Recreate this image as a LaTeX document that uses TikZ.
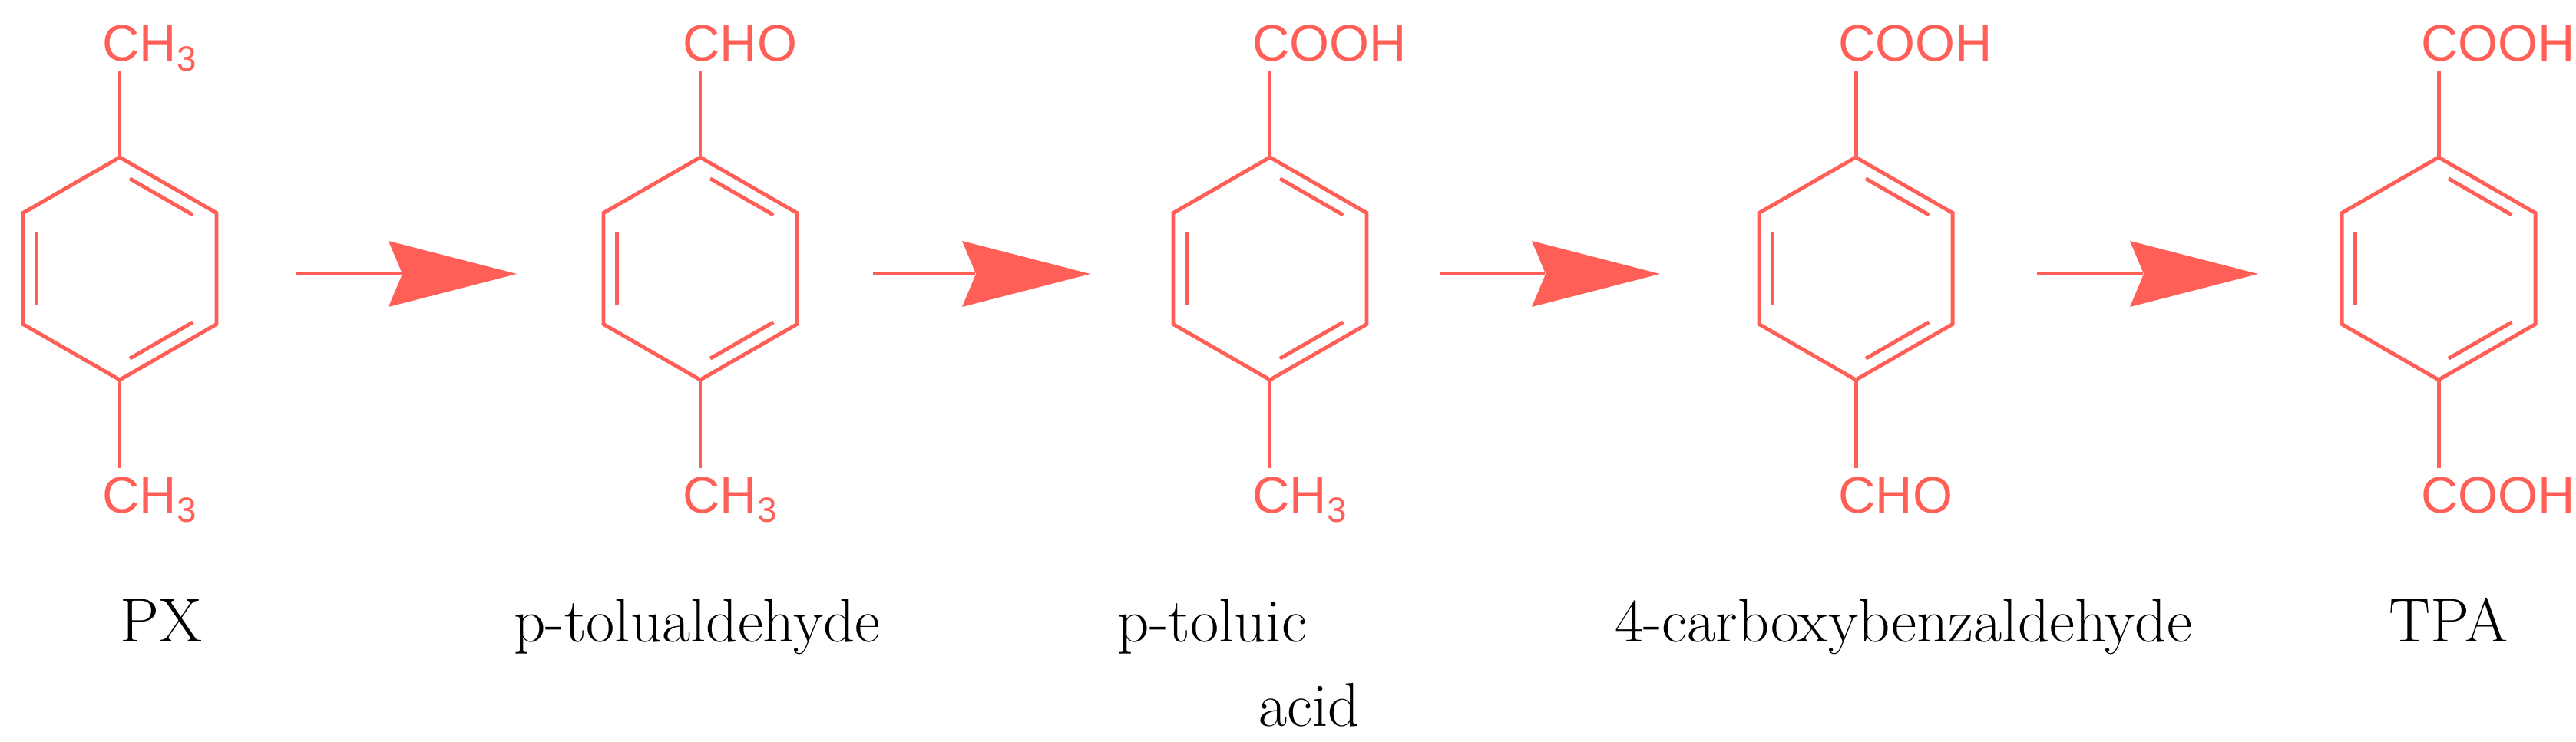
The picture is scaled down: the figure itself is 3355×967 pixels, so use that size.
\documentclass[tikz,border=0pt]{standalone}
\usepackage{fontspec}
\newfontfamily\chemfont{Liberation Sans}
\definecolor{chem}{RGB}{255,95,87}
\usetikzlibrary{calc}
\newcommand{\sub}[1]{\raisebox{-0.35ex}{\fontsize{13}{15}\selectfont #1}}
\newcommand{\innerbond}[3]{%
  \draw[bond] ($($(#1)!0.86!(#2)$)!0.12!($(#1)!0.86!(#3)$)$) -- ($($(#1)!0.86!(#3)$)!0.12!($(#1)!0.86!(#2)$)$);
}
\newcommand{\benzring}[2]{%
  \coordinate (#2c) at (#1,350);
  \coordinate (#2v1) at (#1,205);
  \coordinate (#2v2) at ($(#2c)+(126,-72.5)$);
  \coordinate (#2v3) at ($(#2c)+(126,72.5)$);
  \coordinate (#2v4) at (#1,495);
  \coordinate (#2v5) at ($(#2c)+(-126,72.5)$);
  \coordinate (#2v6) at ($(#2c)+(-126,-72.5)$);
  \draw[bond] (#2v1)--(#2v2)--(#2v3)--(#2v4)--(#2v5)--(#2v6)--cycle;
  \innerbond{#2c}{#2v1}{#2v2}
  \innerbond{#2c}{#2v3}{#2v4}
  \innerbond{#2c}{#2v5}{#2v6}
  \coordinate (#2top) at (#1,92);
  \coordinate (#2bot) at (#1,610);
  \draw[bond] (#2top)--(#2v1);
  \draw[bond] (#2v4)--(#2bot);
}
\begin{document}
\begin{tikzpicture}[x=0.01cm,y=-0.01cm,
  bond/.style={draw=chem,line width=1.4pt},
  grp/.style={text=chem,font=\chemfont\fontsize{19}{22}\selectfont,inner sep=0pt},
  lbl/.style={font=\fontsize{23}{27}\selectfont,inner sep=0pt},
  rxn/.style={draw=chem,line width=1.3pt}]
\path[use as bounding box] (0,0) rectangle (3355,967);
\newcommand{\archead}[1]{\fill[chem] (#1) -- ++(-167,-43) -- ++(18,43) -- ++(-18,43) -- cycle;}
\benzring{156}{m1}
\benzring{912}{m2}
\benzring{1654}{m3}
\benzring{2417}{m4}
\benzring{3176}{m5}
% groups
\node[grp,anchor=base west] (g1t) at (133,80) {CH\sub{3}};
\node[grp,anchor=base west] (g1b) at (133,668) {CH\sub{3}};
\node[grp,anchor=base west] (g2t) at (889,80) {CHO};
\node[grp,anchor=base west] (g2b) at (889,668) {CH\sub{3}};
\node[grp,anchor=base west] (g3t) at (1631,80) {COOH};
\node[grp,anchor=base west] (g3b) at (1631,668) {CH\sub{3}};
\node[grp,anchor=base west] (g4t) at (2394,80) {COOH};
\node[grp,anchor=base west] (g4b) at (2394,668) {CHO};
\node[grp,anchor=base west] (g5t) at (3153,80) {COOH};
\node[grp,anchor=base west] (g5b) at (3153,668) {COOH};
% arrows
\foreach \n/\s/\e in {1/386/673,2/1137/1420,3/1876/2162,4/2653/2941}{
  \coordinate (a\n s) at (\s,357); \coordinate (a\n e) at (\e,357);
  \draw[rxn] (a\n s) -- ($(a\n e)+(-150,0)$);
  \archead{a\n e}
}
% labels
\node[lbl,anchor=base] (l1) at (210,836) {PX};
\node[lbl,anchor=base] (l2) at (908,836) {p-tolualdehyde};
\node[lbl,anchor=base west] (l3a) at (1455,836) {p-toluic};
\node[lbl,anchor=base east] (l3b) at (1772,946) {acid};
\node[lbl,anchor=base] (l4) at (2479,836) {4-carboxybenzaldehyde};
\node[lbl,anchor=base] (l5) at (3189,836) {TPA};
\end{tikzpicture}
\end{document}
